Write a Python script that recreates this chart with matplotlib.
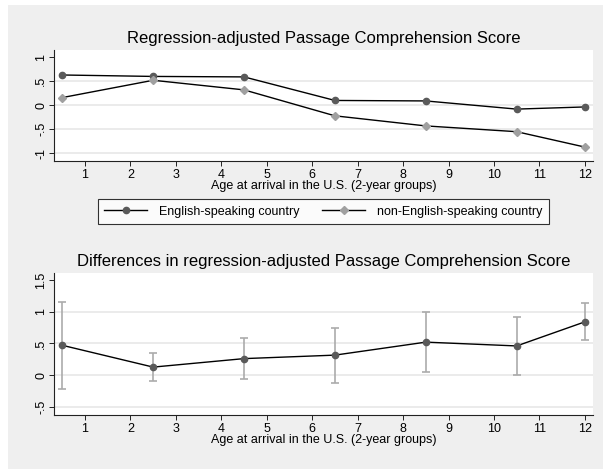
import numpy as np
import matplotlib.pyplot as plt
from matplotlib.patches import Rectangle

plt.rcParams['font.family'] = ['Liberation Sans', 'DejaVu Sans']

# data
age = [0.5, 2.5, 4.5, 6.5, 8.5, 10.5, 12]
english = [0.63, 0.60, 0.59, 0.10, 0.09, -0.08, -0.035]
non_english = [0.16, 0.52, 0.32, -0.22, -0.43, -0.55, -0.87]
diff = [0.47, 0.126, 0.26, 0.315, 0.52, 0.46, 0.84]
diff_hi = [1.15, 0.35, 0.58, 0.74, 1.00, 0.92, 1.14]
diff_lo = [-0.22, -0.10, -0.06, -0.12, 0.047, 0.0, 0.56]

xticks = list(range(1, 13))
top_yticks = [-1, -0.5, 0, 0.5, 1]
top_ylabels = ['-1', '-.5', '0', '.5', '1']
bot_yticks = [-0.5, 0, 0.5, 1, 1.5]
bot_ylabels = ['-.5', '0', '.5', '1', '1.5']

bg = '#efefef'
grid_c = '#e8e8e8'
dark = '#5a5a5a'
light = '#a0a0a0'
xlab = 'Age at arrival in the U.S. (2-year groups)'

fig = plt.figure(figsize=(6.04, 4.69), dpi=100)
fig.patch.set_facecolor('white')
fig.patches.append(Rectangle((8 / 604, 0), 595 / 604, 1 - 5 / 469,
                             transform=fig.transFigure, facecolor=bg,
                             edgecolor='none', zorder=-10))

ax1 = fig.add_axes([54 / 604, 1 - 161 / 469, 539 / 604, 111 / 469])
ax2 = fig.add_axes([54 / 604, 1 - 415 / 469, 539 / 604, 142.3 / 469])


def style(ax, yt, yl, ylim, title):
    ax.set_facecolor('white')
    ax.set_xlim(0.317, 12.18)
    ax.set_ylim(*ylim)
    ax.set_xticks(xticks)
    ax.set_yticks(yt)
    ax.set_yticklabels(yl, rotation=90, va='center')
    for s in ['top', 'right']:
        ax.spines[s].set_visible(False)
    for s in ['left', 'bottom']:
        ax.spines[s].set_color('#222222')
        ax.spines[s].set_linewidth(0.8)
    ax.tick_params(axis='both', labelsize=9, length=3.5, width=0.7,
                   color='#222222', pad=2)
    ax.tick_params(axis='y', pad=1.5)
    # gridlines except at the top label
    for v in yt[:-1]:
        ax.axhline(v, color=grid_c, lw=1.2, zorder=0)
    ax.set_xlabel(xlab, fontsize=9, labelpad=-0.5)
    ax.set_title(title, fontsize=12, pad=5)


style(ax1, top_yticks, top_ylabels, (-1.16, 1.15),
      'Regression-adjusted Passage Comprehension Score')
style(ax2, bot_yticks, bot_ylabels, (-0.63, 1.616),
      'Differences in regression-adjusted Passage Comprehension Score')

ax1.plot(age, english, color='black', lw=1, marker='o', ms=4.5,
         mfc=dark, mec=dark, label='English-speaking country', zorder=3)
ax1.plot(age, non_english, color='black', lw=1, marker='D', ms=4.5,
         mfc=light, mec=light, label='non-English-speaking country', zorder=3)

leg = fig.legend(loc='center', bbox_to_anchor=(323.5 / 604, 1 - 211.5 / 469),
                 ncol=2, fontsize=9, frameon=True, fancybox=False,
                 handlelength=3.4, columnspacing=1.8, borderpad=0.5,
                 handletextpad=1.0, borderaxespad=0)
leg.get_frame().set_edgecolor('black')
leg.get_frame().set_linewidth(0.8)

yerr = [np.array(diff) - np.array(diff_lo), np.array(diff_hi) - np.array(diff)]
ax2.errorbar(age, diff, yerr=yerr, fmt='none', ecolor='#ababab',
             elinewidth=1.2, capsize=2.6, capthick=1.2, zorder=2)
ax2.plot(age, diff, color='black', lw=1, marker='o', ms=4.5,
         mfc=dark, mec=dark, zorder=3)

fig.savefig('out.png', dpi=100, facecolor=fig.get_facecolor())
